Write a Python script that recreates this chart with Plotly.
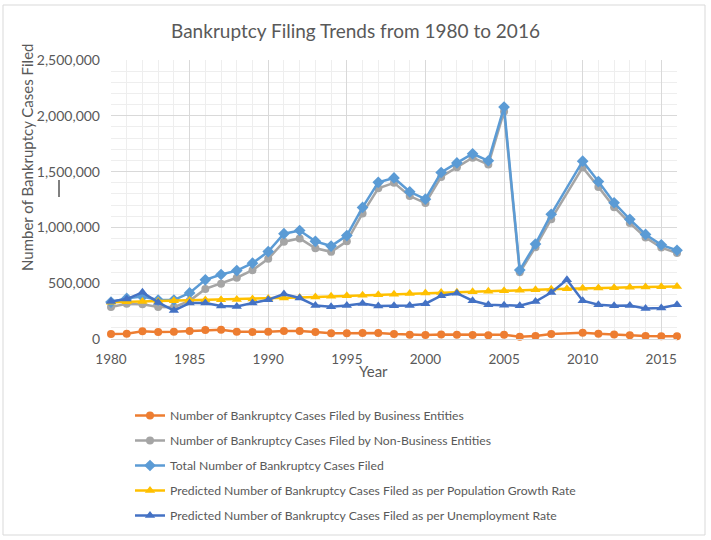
import plotly.graph_objects as go

years = list(range(1980, 2017))

business = [44000, 48000, 69000, 62000, 64000, 71000, 81000, 82000, 64000, 63000,
            65000, 72000, 71000, 62000, 52000, 52000, 54000, 54000, 44000, 38000,
            35000, 40000, 39000, 35000, 34000, 39000, 20000, 28000, 44000, None,
            56000, 48000, 40000, 33000, 27000, 25000, 24000]

non_business = [287000, 316000, 311000, 287000, 285000, 342000, 449000, 496000, 549000, 616000,
                718000, 872000, 901000, 813000, 781000, 875000, 1125000, 1350000, 1399000, 1281000,
                1218000, 1452000, 1539000, 1625000, 1563000, 2039000, 598000, 823000, 1074000, None,
                1537000, 1363000, 1181000, 1039000, 910000, 819000, 771000]

total = [331000, 364000, 380000, 349000, 349000, 413000, 530000, 578000, 613000, 679000,
         783000, 944000, 972000, 875000, 833000, 927000, 1179000, 1404000, 1443000, 1319000,
         1253000, 1492000, 1578000, 1660000, 1597000, 2078000, 618000, 851000, 1118000, None,
         1593000, 1411000, 1221000, 1072000, 937000, 844000, 795000]

pred_population = [330000, 333000, 336000, 339000, 342000, 346000, 349000, 352000, 355000, 359000,
                   362000, 367000, 372000, 377000, 382000, 387000, 392000, 397000, 402000, 407000,
                   412000, 416000, 420000, 424000, 428000, 432000, 436000, 441000, 446000, 450000,
                   455000, 458000, 460000, 463000, 465000, 468000, 470000]

pred_unemployment = [336000, 358000, 418000, 328000, 255000, 322000, 322000, 295000, 292000, 322000,
                     352000, 403000, 367000, 300000, 288000, 300000, 318000, 295000, 298000, 301000,
                     316000, 388000, 410000, 343000, 307000, 303000, 298000, 336000, 417000, 531000,
                     343000, 307000, 298000, 301000, 273000, 277000, 307000]

series_names = [
    "Number of Bankruptcy Cases Filed by Business Entities",
    "Number of Bankruptcy Cases Filed by Non-Business Entities",
    "Total Number of Bankruptcy Cases Filed",
    "Predicted Number of Bankruptcy Cases Filed as per Population Growth Rate",
    "Predicted Number of Bankruptcy Cases Filed as per Unemployment Rate",
]

FONT = "Lato, 'Open Sans', sans-serif"
TXT = "#595959"

W, H = 711, 540
L, R, T, B = 111, 34, 60, 201
PW, PH = W - L - R, H - T - B


def px(x):
    return (x - L) / PW


def py(y):
    return (H - B - y) / PH


series = [
    (business, "#ED7D31", "circle", 8),
    (non_business, "#A5A5A5", "circle", 8),
    (total, "#5B9BD5", "diamond", 9),
    (pred_population, "#FFC000", "triangle-up", 9),
    (pred_unemployment, "#4472C4", "triangle-up", 9),
]

fig = go.Figure()
for i, (vals, color, sym, size) in enumerate(series):
    fig.add_trace(go.Scatter(
        x=years, y=vals, name=series_names[i], mode="lines+markers",
        line=dict(color=color, width=2.5),
        marker=dict(color=color, symbol=sym, size=size),
        connectgaps=True, cliponaxis=False, legendgroup=str(i),
    ))

fig.update_layout(
    width=W, height=H, autosize=False,
    margin=dict(l=L, r=R, t=T, b=B, autoexpand=False),
    paper_bgcolor="white", plot_bgcolor="white",
    font=dict(family=FONT, color=TXT, size=12),
    title=dict(text="Bankruptcy Filing Trends from 1980 to 2016",
               x=0.5, xref="container", xanchor="center",
               y=1 - 31 / H, yref="container", yanchor="middle",
               font=dict(size=19, color=TXT, family=FONT)),
    showlegend=True,
    legend=dict(x=px(130), y=py(401), xanchor="left", yanchor="top",
                orientation="v", bgcolor="rgba(0,0,0,0)",
                font=dict(size=12.2, color=TXT, family=FONT),
                tracegroupgap=6, itemwidth=30),
)

fig.update_xaxes(
    range=[1980, 2016], dtick=5, tick0=1980,
    showgrid=True, gridcolor="#D9D9D9", gridwidth=1,
    minor=dict(dtick=1, showgrid=True, gridcolor="#EEEEEE"),
    showline=True, linecolor="#D9D9D9", linewidth=1,
    zeroline=False, ticks="", ticklabelstandoff=8,
    tickfont=dict(size=13.5, color=TXT),
)
fig.update_yaxes(
    range=[0, 2500000], dtick=500000, tickformat=",d",
    showgrid=True, gridcolor="#D9D9D9", gridwidth=1,
    minor=dict(dtick=100000, showgrid=True, gridcolor="#EEEEEE"),
    showline=False, zeroline=False, ticks="", ticklabelstandoff=10,
    tickfont=dict(size=14, color=TXT),
)

fig.add_annotation(text="Number of Bankruptcy Cases Filed", textangle=-90,
                   x=px(27), y=py(158), xref="paper", yref="paper",
                   xanchor="center", yanchor="middle",
                   showarrow=False, font=dict(size=15, color=TXT, family=FONT))
fig.add_annotation(text="Year", x=px(373), y=py(371), xref="paper", yref="paper",
                   xanchor="center", yanchor="middle",
                   showarrow=False, font=dict(size=15, color=TXT, family=FONT))

# chart border
fig.add_shape(type="rect", xref="paper", yref="paper",
              x0=px(3), x1=px(705), y0=py(535), y1=py(5),
              line=dict(color="#D9D9D9", width=1), layer="below")
# small cursor mark
fig.add_shape(type="line", xref="paper", yref="paper",
              x0=px(59), x1=px(59), y0=py(180), y1=py(197),
              line=dict(color="black", width=1))

fig.write_html("out.html")
